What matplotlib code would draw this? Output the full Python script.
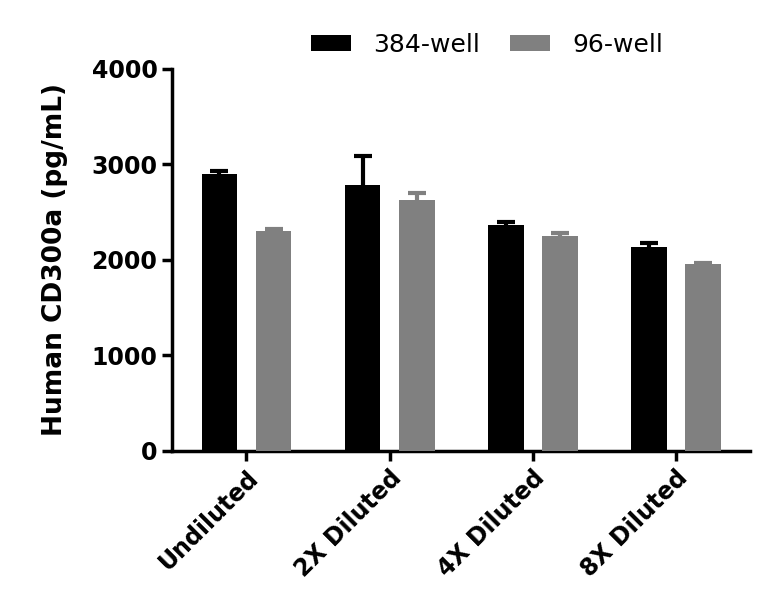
import numpy as np
import matplotlib.pyplot as plt

groups = ['Undiluted', '2X Diluted', '4X Diluted', '8X Diluted']
well384 = [2898, 2789, 2365, 2131]
err384 = [35, 300, 30, 50]
well96 = [2302, 2628, 2254, 1953]
err96 = [25, 77, 24, 13]

plt.rcParams['font.family'] = 'DejaVu Sans'

fig = plt.figure(figsize=(7.68, 6.15), dpi=100)
ax = fig.add_axes([0.224, 0.2667, 0.753, 0.6213])

x = np.arange(len(groups))
w = 0.25
off = 0.189

ax.bar(x - off, well384, w, color='black', label='384-well', zorder=3)
ax.bar(x + off, well96, w, color='#808080', label='96-well', zorder=3)
# error bars drawn behind the bars so only the upper half shows
ax.errorbar(x - off, well384, yerr=err384, fmt='none', ecolor='black',
            elinewidth=3, capsize=6.5, capthick=3, zorder=2)
ax.errorbar(x + off, well96, yerr=err96, fmt='none', ecolor='#808080',
            elinewidth=3, capsize=6.5, capthick=3, zorder=2)

ax.set_xlim(-0.52, 3.52)
ax.set_ylim(0, 4000)
ax.set_yticks([0, 1000, 2000, 3000, 4000])
ax.set_xticks(x)
ax.set_xticklabels(groups, rotation=45, ha='right', rotation_mode='anchor', fontsize=17, fontweight='bold')
for lab in ax.get_yticklabels():
    lab.set_fontsize(17)
    lab.set_fontweight('bold')
ax.set_ylabel('Human CD300a (pg/mL)', fontsize=19, fontweight='bold', labelpad=17)

for s in ['top', 'right']:
    ax.spines[s].set_visible(False)
for s in ['left', 'bottom']:
    ax.spines[s].set_linewidth(2.5)
ax.tick_params(width=2.5, length=7)

ax.legend(loc='center', bbox_to_anchor=(0.545, 1.063), ncol=2, frameon=False,
          fontsize=18, handlelength=1.6, handleheight=0.6, columnspacing=1.2, handletextpad=0.9)

fig.savefig('out.png', dpi=100)
